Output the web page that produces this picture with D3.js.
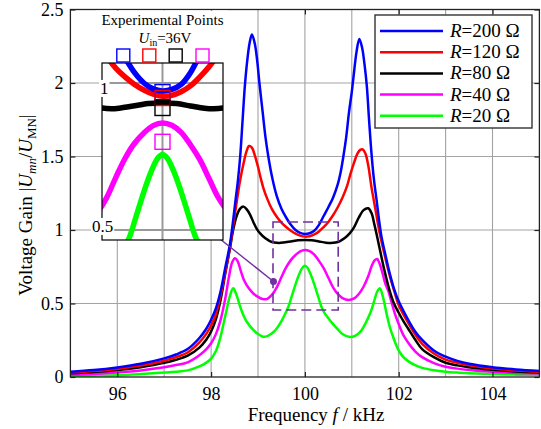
<!DOCTYPE html>
<html><head><meta charset="utf-8">
<script src="https://cdn.jsdelivr.net/npm/d3@7"></script>
<style>
html,body{margin:0;padding:0;background:#fff;}
svg{display:block;font-family:"Liberation Serif","Times New Roman",serif;}
</style></head><body>
<svg id="chart" width="541" height="429"></svg>
<script>
// Voltage gain |Umn/UMN| versus frequency (kHz) for five load resistances.
const loads = [200, 120, 80, 40, 20];
const colors = ["#0000ff", "#ff0000", "#000000", "#ff00ff", "#00ff00"];

const gainR200 = [
  [95,0.036],[95.5,0.047],[96,0.065],[96.5,0.09],[97,0.127],[97.25,0.153],[97.5,0.19],[97.75,0.265],[97.9,0.33],[98,0.39],
  [98.1,0.465],[98.2,0.58],[98.3,0.74],[98.4,0.9],[98.46,1.04],[98.52,1.2],[98.57,1.33],[98.62,1.5],
  [98.67,1.74],[98.72,1.98],[98.77,2.15],[98.82,2.27],[98.87,2.33],[98.93,2.27],[98.98,2.16],[99.03,2.0],
  [99.1,1.8],[99.16,1.63],[99.22,1.5],[99.3,1.36],[99.4,1.23],[99.5,1.145],[99.6,1.085],[99.7,1.035],
  [99.8,1.0],[99.9,0.98],[100,0.973],[100.1,0.978],[100.2,0.995],[100.3,1.035],[100.4,1.095],[100.5,1.155],
  [100.6,1.22],[100.7,1.31],[100.76,1.39],[100.82,1.5],[100.88,1.63],[100.94,1.8],[101.0,1.94],[101.05,2.08],
  [101.1,2.21],[101.16,2.3],[101.22,2.24],[101.27,2.13],[101.32,1.98],[101.37,1.74],[101.42,1.52],[101.47,1.35],
  [101.53,1.2],[101.58,1.07],[101.63,0.96],[101.7,0.855],[101.8,0.715],[101.9,0.6],[102,0.515],[102.1,0.45],
  [102.2,0.39],[102.35,0.31],[102.5,0.252],[102.75,0.18],[103,0.138],[103.25,0.11],[103.5,0.09],[104,0.066],[104.5,0.051],[105,0.041]
];
const gainR120 = [
  [95,0.03],[95.5,0.04],[96,0.055],[96.5,0.078],[97,0.11],[97.25,0.135],[97.5,0.167],[97.75,0.235],[97.9,0.295],[98,0.35],
  [98.1,0.425],[98.2,0.55],[98.3,0.71],[98.4,0.88],[98.48,1.05],[98.55,1.2],[98.62,1.34],[98.69,1.45],
  [98.75,1.53],[98.81,1.571],[98.87,1.56],[98.93,1.51],[99.0,1.43],[99.06,1.35],[99.12,1.28],[99.2,1.21],
  [99.3,1.14],[99.4,1.09],[99.5,1.05],[99.6,1.02],[99.7,0.995],[99.8,0.976],[99.9,0.962],[100,0.955],
  [100.1,0.958],[100.2,0.97],[100.3,0.99],[100.4,1.02],[100.5,1.055],[100.6,1.1],[100.7,1.155],[100.8,1.22],
  [100.9,1.3],[100.97,1.38],[101.05,1.46],[101.12,1.52],[101.18,1.545],[101.23,1.549],[101.29,1.52],[101.35,1.44],
  [101.42,1.29],[101.47,1.2],[101.52,1.11],[101.57,1.02],[101.62,0.94],[101.7,0.83],[101.8,0.7],[101.9,0.59],
  [102,0.49],[102.1,0.425],[102.2,0.37],[102.35,0.29],[102.5,0.225],[102.75,0.16],[103,0.118],[103.25,0.096],[103.5,0.079],
  [104,0.057],[104.5,0.044],[105,0.035]
];
const gainR80 = [
  [95,0.025],[95.5,0.034],[96,0.047],[96.5,0.067],[97,0.096],[97.25,0.117],[97.5,0.145],[97.75,0.2],[97.9,0.255],[98,0.31],
  [98.1,0.39],[98.2,0.52],[98.3,0.7],[98.4,0.87],[98.47,1.0],[98.55,1.1],[98.62,1.145],[98.69,1.159],
  [98.76,1.14],[98.83,1.105],[98.9,1.055],[98.97,1.01],[99.05,0.975],[99.15,0.945],[99.25,0.925],[99.35,0.915],
  [99.45,0.912],[99.55,0.915],[99.65,0.92],[99.75,0.925],[99.85,0.93],[100,0.932],[100.15,0.93],[100.3,0.922],
  [100.45,0.914],[100.55,0.912],[100.65,0.915],[100.75,0.925],[100.85,0.945],[100.95,0.975],[101.05,1.02],[101.15,1.085],
  [101.25,1.135],[101.35,1.148],[101.42,1.115],[101.48,1.04],[101.53,0.97],[101.58,0.895],[101.63,0.82],[101.7,0.72],
  [101.8,0.595],[101.9,0.5],[102,0.437],[102.1,0.38],[102.2,0.33],[102.35,0.255],[102.5,0.19],[102.75,0.135],
  [103,0.097],[103.25,0.079],[103.5,0.066],[104,0.049],[104.5,0.038],[105,0.03]
];
const gainR40 = [
  [95,0.015],[95.5,0.021],[96,0.031],[96.5,0.045],[97,0.066],[97.25,0.081],[97.5,0.1],[97.75,0.148],[97.9,0.19],[98,0.23],
  [98.1,0.29],[98.2,0.385],[98.3,0.53],[98.38,0.68],[98.45,0.78],[98.51,0.807],[98.57,0.785],[98.63,0.725],
  [98.7,0.66],[98.8,0.605],[98.9,0.568],[99.0,0.545],[99.1,0.53],[99.2,0.532],[99.3,0.56],[99.4,0.61],
  [99.5,0.68],[99.6,0.745],[99.7,0.795],[99.8,0.83],[99.9,0.855],[100,0.864],[100.1,0.856],[100.2,0.832],
  [100.3,0.79],[100.4,0.74],[100.5,0.675],[100.6,0.61],[100.7,0.565],[100.8,0.537],[100.93,0.524],[101.05,0.535],
  [101.15,0.565],[101.25,0.614],[101.35,0.685],[101.43,0.76],[101.49,0.795],[101.54,0.803],[101.6,0.765],[101.66,0.7],
  [101.72,0.63],[101.78,0.585],[101.85,0.505],[101.92,0.43],[102,0.36],[102.1,0.285],[102.2,0.235],[102.35,0.175],
  [102.5,0.135],[102.75,0.095],[103,0.07],[103.25,0.057],[103.5,0.048],[104,0.036],[104.5,0.028],[105,0.023]
];
const gainR20 = [
  [95,0.007],[95.5,0.009],[96,0.012],[96.5,0.02],[97,0.03],[97.25,0.036],[97.5,0.045],[97.75,0.072],[97.9,0.098],[98,0.125],
  [98.1,0.175],[98.19,0.26],[98.26,0.355],[98.33,0.456],[98.4,0.55],[98.47,0.603],[98.54,0.56],[98.62,0.478],
  [98.69,0.42],[98.76,0.376],[98.9,0.32],[99.0,0.292],[99.11,0.274],[99.2,0.278],[99.3,0.297],[99.4,0.33],
  [99.5,0.38],[99.58,0.43],[99.65,0.48],[99.72,0.55],[99.8,0.63],[99.88,0.7],[99.95,0.745],[100,0.757],
  [100.05,0.745],[100.12,0.7],[100.2,0.63],[100.28,0.55],[100.35,0.48],[100.42,0.435],[100.5,0.4],[100.6,0.36],
  [100.7,0.325],[100.8,0.292],[100.96,0.272],[101.08,0.282],[101.2,0.315],[101.3,0.37],[101.4,0.44],[101.48,0.52],
  [101.54,0.58],[101.6,0.603],[101.66,0.55],[101.74,0.433],[101.81,0.34],[101.88,0.274],[101.95,0.215],[102.02,0.17],
  [102.1,0.135],[102.2,0.108],[102.35,0.08],[102.5,0.062],[102.75,0.046],[103,0.036],[103.25,0.03],[103.5,0.026],[104,0.02],
  [104.5,0.016],[105,0.013]
];
const curves = [gainR200, gainR120, gainR80, gainR40, gainR20];

// Measured gains at 100 kHz (Uin = 36 V) for R = 200, 120, 80, 40 Ω
const expFreq = 100;
const expGain = [0.969, 0.949, 0.915, 0.8];

const xTickValues = [96, 98, 100, 102, 104];
const xGridValues = [96, 97, 98, 99, 100, 101, 102, 103, 104];
const yTickValues = [0, 0.5, 1, 1.5, 2, 2.5];
const yGridValues = [0.5, 1, 1.5, 2];

// Region enlarged in the inset: [f0, f1] kHz × [g0, g1]
const zoomFreq = [99.32, 100.71];
const zoomGain = [0.456, 1.054];
const insetFreq = [99.35, 100.65];
const insetGain = [0.466, 1.068];
const insetTicks = [0.5, 1];
const markerPoint = [99.33, 0.65];

const svg = d3.select("#chart");
const L = 70.4, R = 539.4, T = 9.5, B = 377;
const x = d3.scaleLinear().domain([95, 105]).range([L, R]);
const y = d3.scaleLinear().domain([0, 2.5]).range([B, T]);

svg.append("defs").append("clipPath").attr("id", "plotClip")
  .append("rect").attr("x", L).attr("y", T).attr("width", R - L).attr("height", B - T);

// grid
const grid = svg.append("g").attr("stroke", "#a3a3a3").attr("stroke-width", 1.1);
grid.selectAll("line.v").data(xGridValues).join("line")
  .attr("x1", d => x(d)).attr("x2", d => x(d)).attr("y1", T).attr("y2", B);
grid.selectAll("line.h").data(yGridValues).join("line")
  .attr("y1", d => y(d)).attr("y2", d => y(d)).attr("x1", L).attr("x2", R);

// curves
const smooth = d3.curveCatmullRom.alpha(0.5);
const line = d3.line().x(d => x(d[0])).y(d => y(d[1])).curve(smooth);
const plot = svg.append("g").attr("clip-path", "url(#plotClip)");
// draw low-gain traces first so the high-gain traces sit on top
curves.map((c, i) => i).reverse().forEach(i => {
  plot.append("path").datum(curves[i]).attr("d", line)
    .attr("fill", "none").attr("stroke", colors[i]).attr("stroke-width", 2.5)
    .attr("stroke-linejoin", "round");
});

// axes with inward ticks
const fmt = d => String(d);
svg.append("g").attr("transform", `translate(0,${B})`)
  .call(d3.axisBottom(x).tickValues(xTickValues).tickSizeInner(-5).tickSizeOuter(0).tickPadding(10).tickFormat(fmt))
  .call(g => g.select(".domain").remove())
  .call(g => g.selectAll("text").attr("font-size", 18).attr("font-family", "Liberation Serif").attr("fill", "#000"));
svg.append("g").attr("transform", `translate(${L},0)`)
  .call(d3.axisLeft(y).tickValues(yTickValues).tickSizeInner(-5).tickSizeOuter(0).tickPadding(7).tickFormat(fmt))
  .call(g => g.select(".domain").remove())
  .call(g => g.selectAll("text").attr("font-size", 18).attr("font-family", "Liberation Serif").attr("fill", "#000"));
svg.append("g").attr("transform", `translate(0,${T})`)
  .call(d3.axisTop(x).tickValues(xTickValues).tickSizeInner(-5).tickSizeOuter(0).tickFormat(""))
  .call(g => g.select(".domain").remove());
svg.append("g").attr("transform", `translate(${R},0)`)
  .call(d3.axisRight(y).tickValues(yTickValues).tickSizeInner(-5).tickSizeOuter(0).tickFormat(""))
  .call(g => g.select(".domain").remove());
svg.selectAll(".tick line").attr("stroke", "#222").attr("stroke-width", 1.2);
svg.append("rect").attr("x", L).attr("y", T).attr("width", R - L).attr("height", B - T)
  .attr("fill", "none").attr("stroke", "#222").attr("stroke-width", 1.3);

// axis titles
const xt = svg.append("text").attr("x", 316).attr("y", 421).attr("text-anchor", "middle")
  .attr("font-size", 19).attr("fill", "#000");
xt.append("tspan").text("Frequency ");
xt.append("tspan").attr("font-style", "italic").text("f");
xt.append("tspan").text(" / kHz");

const yt = svg.append("text").attr("transform", "rotate(-90)").attr("x", -205).attr("y", 32)
  .attr("text-anchor", "middle").attr("font-size", 19).attr("fill", "#000");
yt.append("tspan").text("Voltage Gain  |");
yt.append("tspan").attr("font-style", "italic").text("U");
yt.append("tspan").attr("font-style", "italic").attr("font-size", 13).attr("dy", 4).text("mn");
yt.append("tspan").attr("dy", -4).text("/");
yt.append("tspan").attr("font-style", "italic").text("U");
yt.append("tspan").attr("font-size", 13).attr("dy", 4).text("MN");
yt.append("tspan").attr("dy", -4).text("|");

// dashed zoom box and marker
const purple = "#7030a0";
svg.append("rect")
  .attr("x", x(zoomFreq[0])).attr("y", y(zoomGain[1]))
  .attr("width", x(zoomFreq[1]) - x(zoomFreq[0])).attr("height", y(zoomGain[0]) - y(zoomGain[1]))
  .attr("fill", "none").attr("stroke", purple).attr("stroke-width", 1.6).attr("stroke-dasharray", "10,5");

// inset
const IL = 102, IR = 223, IT = 63, IB = 240;
const xi = d3.scaleLinear().domain(insetFreq).range([IL, IR]);
const yi = d3.scaleLinear().domain(insetGain).range([IB, IT]);
svg.select("defs").append("clipPath").attr("id", "insetClip")
  .append("rect").attr("x", IL).attr("y", IT).attr("width", IR - IL).attr("height", IB - IT);

svg.append("line").attr("x1", IR - 3).attr("y1", IB - 1).attr("x2", x(markerPoint[0])).attr("y2", y(markerPoint[1]))
  .attr("stroke", purple).attr("stroke-width", 1.4);
svg.append("circle").attr("cx", x(markerPoint[0])).attr("cy", y(markerPoint[1])).attr("r", 3.5).attr("fill", purple);

// white backdrop for the inset and its caption
svg.append("rect").attr("x", 96).attr("y", T + 1).attr("width", 132).attr("height", IT - T - 1).attr("fill", "#fff");
svg.append("rect").attr("x", IL).attr("y", IT).attr("width", IR - IL).attr("height", IB - IT).attr("fill", "#fff");

const ig = svg.append("g").attr("clip-path", "url(#insetClip)");
ig.append("line").attr("x1", xi(expFreq)).attr("x2", xi(expFreq)).attr("y1", IT).attr("y2", IB)
  .attr("stroke", "#999").attr("stroke-width", 2);
ig.selectAll("line.h").data(insetTicks).join("line")
  .attr("x1", IL).attr("x2", IR).attr("y1", d => yi(d)).attr("y2", d => yi(d))
  .attr("stroke", "#999").attr("stroke-width", 2);
const iline = d3.line().x(d => xi(d[0])).y(d => yi(d[1])).curve(smooth);
curves.map((c, i) => i).reverse().forEach(i => {
  ig.append("path").datum(curves[i]).attr("d", iline)
    .attr("fill", "none").attr("stroke", colors[i]).attr("stroke-width", 5.5);
});
svg.append("rect").attr("x", IL).attr("y", IT).attr("width", IR - IL).attr("height", IB - IT)
  .attr("fill", "none").attr("stroke", "#000").attr("stroke-width", 1.2);

// measured points
const sq = 15;
svg.selectAll("rect.exp").data(expGain).join("rect").attr("class", "exp")
  .attr("x", xi(expFreq) - sq / 2).attr("y", d => yi(d) - sq / 2)
  .attr("width", sq).attr("height", sq).attr("fill", "none")
  .attr("stroke", (d, i) => colors[i]).attr("stroke-width", 1.4);

// inset tick labels with white backing
const insetLabels = [{v: 1, t: "1", x: 100, dy: 5}, {v: 0.5, t: "0.5", x: 92, dy: -4}];
insetLabels.forEach(o => {
  const tx = svg.append("text").attr("x", o.x).attr("y", yi(o.v) + o.dy).attr("dy", "0.35em")
    .attr("font-size", 17).attr("fill", "#000").text(o.t);
  const bb = tx.node().getBBox();
  svg.insert("rect", () => tx.node()).attr("x", bb.x - 1).attr("y", bb.y + 1)
    .attr("width", bb.width + 2).attr("height", bb.height - 2).attr("fill", "#fff");
});

// caption above the inset
svg.append("text").attr("x", 162.5).attr("y", 25).attr("text-anchor", "middle")
  .attr("font-size", 15).attr("fill", "#000").text("Experimental Points");
const ut = svg.append("text").attr("x", 165).attr("y", 43).attr("text-anchor", "middle")
  .attr("font-size", 15).attr("fill", "#000");
ut.append("tspan").attr("font-style", "italic").text("U");
ut.append("tspan").attr("font-size", 10).attr("dy", 3).text("in");
ut.append("tspan").attr("dy", -3).text("=36V");
const keyX = [123.3, 149.3, 175.7, 202.5];
svg.selectAll("rect.key").data(expGain).join("rect").attr("class", "key")
  .attr("x", (d, i) => keyX[i] - 6.5).attr("y", 49).attr("width", 13).attr("height", 13)
  .attr("fill", "none").attr("stroke", (d, i) => colors[i]).attr("stroke-width", 1.4);

// legend
const lg = svg.append("g");
lg.append("rect").attr("x", 375).attr("y", 15).attr("width", 157).attr("height", 113)
  .attr("fill", "#fff").attr("stroke", "#333").attr("stroke-width", 1.4);
loads.forEach((r, i) => {
  const yy = 31 + i * 21.2;
  lg.append("line").attr("x1", 380).attr("x2", 443).attr("y1", yy).attr("y2", yy)
    .attr("stroke", colors[i]).attr("stroke-width", 2.5);
  const t = lg.append("text").attr("x", 450).attr("y", yy + 6).attr("font-size", 19).attr("fill", "#000");
  t.append("tspan").attr("font-style", "italic").text("R");
  t.append("tspan").text(`=${r} Ω`);
});
</script>
</body></html>
